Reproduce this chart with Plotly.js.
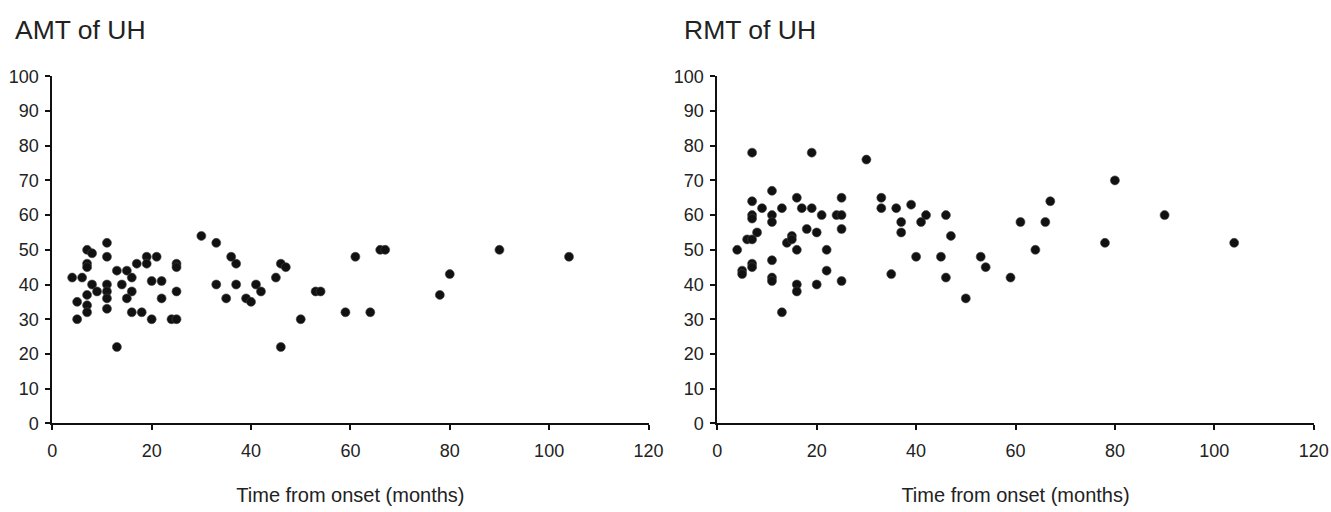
<!DOCTYPE html>
<html>
<head>
<meta charset="utf-8">
<script src="https://cdn.plot.ly/plotly-3.0.1.min.js"></script>
<style>html,body{margin:0;padding:0;background:#fff;}#chart{width:1331px;height:512px;}</style>
</head>
<body>
<div id="chart"></div>
<script>
// AMT of UH: time from onset (months) and value
const amtMonths = [30,11,7,8,11,7,7,19,21,17,19,25,25,13,15,16,4,6,8,11,14,20,22,9,11,7,11,16,15,22,25,5,7,7,11,16,18,5,20,24,25,13,
  33,36,37,33,37,41,42,35,39,40,46,47,45,53,54,50,46,61,59,64,66,67,80,78,90,104];
const amtValues = [54,52,50,49,48,46,45,48,48,46,46,46,45,44,44,42,42,42,40,40,40,41,41,38,38,37,36,38,36,36,38,35,34,32,33,32,32,30,30,30,30,22,
  52,48,46,40,40,40,38,36,36,35,46,45,42,38,38,30,22,48,32,32,50,50,43,37,50,48];

// RMT of UH
const rmtMonths = [7,19,30,11,7,16,25,9,13,17,19,7,7,11,11,21,24,25,8,6,7,18,20,25,15,14,15,16,4,22,7,7,5,5,11,22,11,11,16,16,20,25,13,
  33,33,36,39,42,41,46,37,37,47,40,45,53,54,35,46,59,50,61,66,67,64,80,90,78,104];
const rmtValues = [78,78,76,67,64,65,65,62,62,62,62,60,59,60,58,60,60,60,55,53,53,56,55,56,54,52,53,50,50,50,46,45,44,43,47,44,42,41,40,38,40,41,32,
  65,62,62,63,60,58,60,58,55,54,48,48,48,45,43,42,42,36,58,58,64,50,70,60,52,52];

const panelTitles = ["AMT of UH", "RMT of UH"];
const xTitle = "Time from onset (months)";

const FONT = "Liberation Sans, Arial, Helvetica, sans-serif";
const markerStyle = {size: 9, color: "#111", line: {width: 0.6, color: "#444"}};

const traces = [
  {x: amtMonths, y: amtValues, type: "scatter", mode: "markers", marker: markerStyle, xaxis: "x", yaxis: "y", hoverinfo: "x+y"},
  {x: rmtMonths, y: rmtValues, type: "scatter", mode: "markers", marker: markerStyle, xaxis: "x2", yaxis: "y2", hoverinfo: "x+y"}
];

function xAx(domain, anchor) {
  return {
    domain: domain, anchor: anchor, range: [0, 120], tickvals: [0,20,40,60,80,100,120],
    showgrid: false, zeroline: false, showline: true, linecolor: "#111", linewidth: 2,
    ticks: "outside", ticklen: 5, tickwidth: 2, tickcolor: "#111",
    tickfont: {family: FONT, size: 18, color: "#222"}, ticklabelstandoff: 5,
    title: {text: xTitle, font: {family: FONT, size: 20, color: "#222"}, standoff: 28},
    fixedrange: true
  };
}
function yAx(anchor) {
  return {
    domain: [0.1732, 0.851], anchor: anchor, range: [0, 100], tickvals: [0,10,20,30,40,50,60,70,80,90,100],
    showgrid: false, zeroline: false, showline: true, linecolor: "#111", linewidth: 2,
    ticks: "outside", ticklen: 5, tickwidth: 2, tickcolor: "#111",
    tickfont: {family: FONT, size: 18, color: "#222"}, ticklabelstandoff: 3,
    fixedrange: true
  };
}

const layout = {
  width: 1331, height: 512,
  margin: {l: 0, r: 0, t: 0, b: 0},
  paper_bgcolor: "#fff", plot_bgcolor: "#fff",
  showlegend: false,
  xaxis: xAx([52.3/1331, 648.5/1331], "y"),
  yaxis: yAx("x"),
  xaxis2: xAx([717.3/1331, 1313.7/1331], "y2"),
  yaxis2: yAx("x2"),
  annotations: [
    {text: panelTitles[0], xref: "paper", yref: "paper", x: 13/1331, y: 1 - 30/512, xanchor: "left", yanchor: "middle", showarrow: false, font: {family: FONT, size: 26.5, color: "#222"}},
    {text: panelTitles[1], xref: "paper", yref: "paper", x: 682/1331, y: 1 - 30/512, xanchor: "left", yanchor: "middle", showarrow: false, font: {family: FONT, size: 26.5, color: "#222"}}
  ]
};

Plotly.newPlot("chart", traces, layout, {displayModeBar: false, staticPlot: true});
</script>
</body>
</html>
